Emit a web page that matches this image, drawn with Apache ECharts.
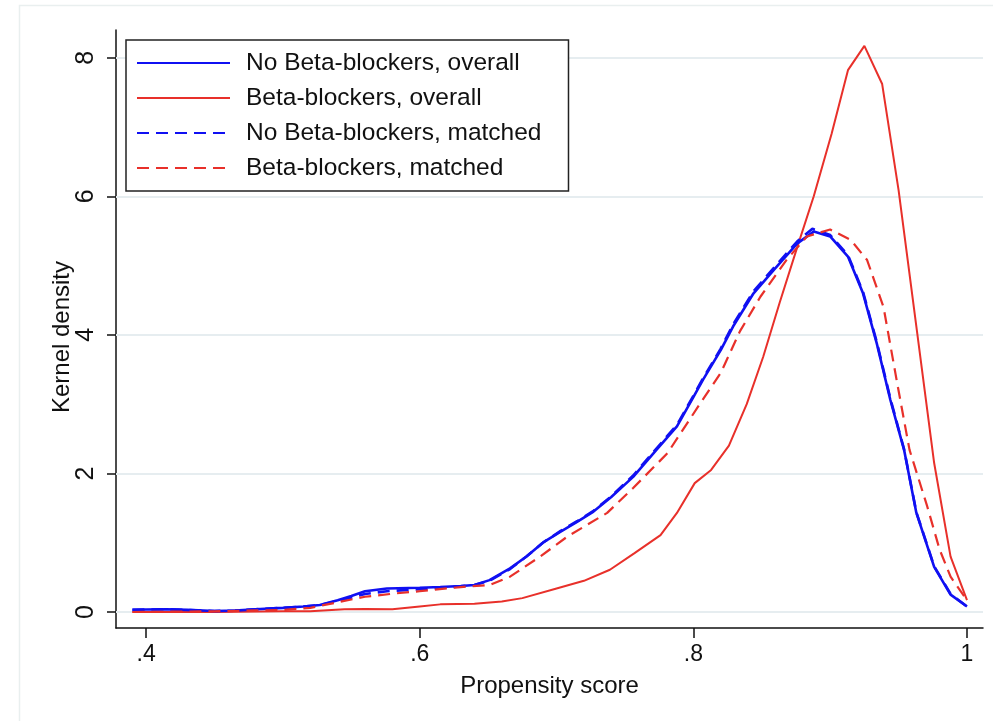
<!DOCTYPE html>
<html>
<head>
<meta charset="utf-8">
<script src="https://cdn.jsdelivr.net/npm/echarts@6/dist/echarts.min.js"></script>
<style>
html,body{margin:0;padding:0;background:#fff;}
#chart{width:993px;height:721px;}
</style>
</head>
<body>
<div id="chart"></div>
<script>
// ---- Data ----
const seriesNames = [
  'No Beta-blockers, overall',
  'Beta-blockers, overall',
  'No Beta-blockers, matched',
  'Beta-blockers, matched'
];
const xTicks = [0.4, 0.6, 0.8, 1.0];
const xTickLabels = ['.4', '.6', '.8', '1'];
const yTicks = [0, 2, 4, 6, 8];

const noBBOverallX = [0.390,0.400,0.415,0.430,0.450,0.465,0.480,0.500,0.515,0.527,0.540,0.550,0.560,0.576,0.600,0.615,0.630,0.640,0.651,0.666,0.678,0.690,0.703,0.715,0.727,0.740,0.756,0.773,0.788,0.800,0.807,0.820,0.829,0.844,0.859,0.876,0.888,0.900,0.913,0.924,0.934,0.944,0.954,0.963,0.976,0.988,1.000];
const noBBOverallY = [0.03,0.035,0.04,0.03,0.015,0.02,0.04,0.06,0.08,0.10,0.17,0.23,0.30,0.34,0.35,0.36,0.375,0.39,0.46,0.63,0.80,1.00,1.16,1.30,1.45,1.66,1.95,2.34,2.68,3.10,3.35,3.78,4.12,4.60,4.94,5.32,5.49,5.42,5.13,4.60,3.88,3.06,2.34,1.43,0.65,0.25,0.08];

const bbOverallX = [0.390,0.420,0.450,0.500,0.520,0.545,0.560,0.580,0.600,0.615,0.640,0.660,0.675,0.700,0.720,0.739,0.757,0.776,0.788,0.801,0.813,0.826,0.839,0.851,0.863,0.876,0.888,0.901,0.913,0.925,0.938,0.950,0.963,0.976,0.988,1.000];
const bbOverallY = [0.00,0.00,0.00,0.01,0.01,0.04,0.045,0.04,0.08,0.11,0.12,0.15,0.20,0.34,0.45,0.61,0.85,1.11,1.43,1.86,2.05,2.40,3.00,3.68,4.46,5.27,6.00,6.90,7.82,8.17,7.62,6.09,4.12,2.15,0.80,0.17];

const noBBMatchedX = [0.390,0.400,0.415,0.430,0.450,0.465,0.480,0.500,0.515,0.527,0.540,0.550,0.560,0.576,0.600,0.615,0.630,0.640,0.651,0.666,0.678,0.690,0.703,0.715,0.727,0.740,0.756,0.773,0.788,0.800,0.807,0.820,0.829,0.844,0.859,0.876,0.887,0.900,0.913,0.924,0.934,0.944,0.954,0.963,0.976,0.988,1.000];
const noBBMatchedY = [0.03,0.035,0.04,0.03,0.015,0.02,0.04,0.06,0.08,0.10,0.16,0.21,0.26,0.30,0.33,0.35,0.37,0.39,0.45,0.62,0.80,1.00,1.17,1.31,1.46,1.67,1.97,2.36,2.70,3.12,3.37,3.80,4.15,4.63,4.97,5.35,5.53,5.44,5.15,4.62,3.90,3.08,2.35,1.44,0.66,0.26,0.08];

const bbMatchedX = [0.390,0.450,0.500,0.520,0.540,0.560,0.583,0.600,0.630,0.651,0.666,0.688,0.708,0.737,0.756,0.781,0.805,0.820,0.834,0.849,0.868,0.883,0.900,0.915,0.927,0.939,0.949,0.958,0.971,0.980,0.988,1.000];
const bbMatchedY = [0.00,0.01,0.03,0.06,0.14,0.22,0.27,0.30,0.36,0.39,0.51,0.80,1.09,1.43,1.79,2.29,3.01,3.45,4.05,4.55,5.08,5.42,5.52,5.37,5.08,4.40,3.30,2.34,1.52,0.90,0.51,0.17];

function pairs(xs, ys) { return xs.map((x, i) => [x, ys[i]]); }

const BLUE = '#1010f2';
const RED = '#e8302a';
const FONT = '"Liberation Sans", Arial, Helvetica, sans-serif';

const chart = echarts.init(document.getElementById('chart'), null, {renderer: 'canvas'});
chart.setOption({
  backgroundColor: '#ffffff',
  animation: false,
  textStyle: {fontFamily: FONT},
  graphic: [{
    type: 'rect', silent: true, z: -10,
    shape: {x: 19.5, y: 5.5, width: 1000, height: 800},
    style: {fill: 'none', stroke: '#e9efef', lineWidth: 1.5}
  }],
  grid: {left: 116, top: 30, right: 10, bottom: 93, containLabel: false},
  legend: {
    orient: 'vertical',
    left: 126, top: 40, z: 20,
    data: seriesNames,
    itemWidth: 93, itemHeight: 14, itemGap: 9,
    padding: [10, 27, 10, 10],
    borderColor: '#222', borderWidth: 1.5, backgroundColor: '#fff',
    itemStyle: {color: 'transparent', borderWidth: 0, opacity: 0},
    textStyle: {fontFamily: FONT, fontSize: 24.5, color: '#111', lineHeight: 26, padding: [0, 0, 0, 11]}
  },
  xAxis: {
    type: 'value', min: 0.378, max: 1.0117,
    name: 'Propensity score', nameLocation: 'middle', nameGap: 46, nameMoveOverlap: false,
    nameTextStyle: {fontFamily: FONT, fontSize: 24, color: '#111'},
    axisLine: {show: true, onZero: false, lineStyle: {color: '#111', width: 1.5}},
    axisTick: {show: true, length: 10, customValues: xTicks, lineStyle: {color: '#111', width: 1.5}},
    axisLabel: {customValues: xTicks, margin: 15, fontFamily: FONT, fontSize: 23, color: '#111',
      formatter: v => { const i = xTicks.findIndex(t => Math.abs(t - v) < 1e-6); return i >= 0 ? xTickLabels[i] : ''; }},
    splitLine: {show: false}
  },
  yAxis: {
    type: 'value', min: -0.231, max: 8.40,
    name: 'Kernel density', nameLocation: 'middle', nameGap: 42, nameRotate: 90, nameMoveOverlap: false,
    nameTextStyle: {fontFamily: FONT, fontSize: 24, color: '#111', padding: [0, 16, 0, 0]},
    axisLine: {show: true, onZero: false, lineStyle: {color: '#111', width: 1.5}},
    axisTick: {show: true, length: 9, customValues: yTicks, lineStyle: {color: '#111', width: 1.5}},
    axisLabel: {customValues: yTicks, rotate: 90, margin: 17, fontFamily: FONT, fontSize: 25, color: '#111',
      formatter: v => String(Math.round(v))},
    splitLine: {show: false}
  },
  series: [
    {
      name: 'grid', type: 'line', data: [], z: 0, silent: true,
      markLine: {
        silent: true, z: 1, symbol: ['none', 'none'], label: {show: false},
        lineStyle: {color: '#e6edf0', width: 2, type: 'solid'},
        data: yTicks.map(v => ({yAxis: v}))
      }
    },
    {
      name: seriesNames[1], type: 'line', data: pairs(bbOverallX, bbOverallY),
      showSymbol: false, symbol: 'none', color: RED, z: 2,
      lineStyle: {color: RED, width: 2, type: 'solid'}
    },
    {
      name: seriesNames[0], type: 'line', data: pairs(noBBOverallX, noBBOverallY),
      showSymbol: false, symbol: 'none', color: BLUE, z: 3,
      lineStyle: {color: BLUE, width: 2.6, type: 'solid'}
    },
    {
      name: seriesNames[2], type: 'line', data: pairs(noBBMatchedX, noBBMatchedY),
      showSymbol: false, symbol: 'none', color: BLUE, z: 4,
      lineStyle: {color: BLUE, width: 2.6, type: [12, 7]}
    },
    {
      name: seriesNames[3], type: 'line', data: pairs(bbMatchedX, bbMatchedY),
      showSymbol: false, symbol: 'none', color: RED, z: 5,
      lineStyle: {color: RED, width: 2.2, type: [12, 7]}
    }
  ]
});
</script>
</body>
</html>
